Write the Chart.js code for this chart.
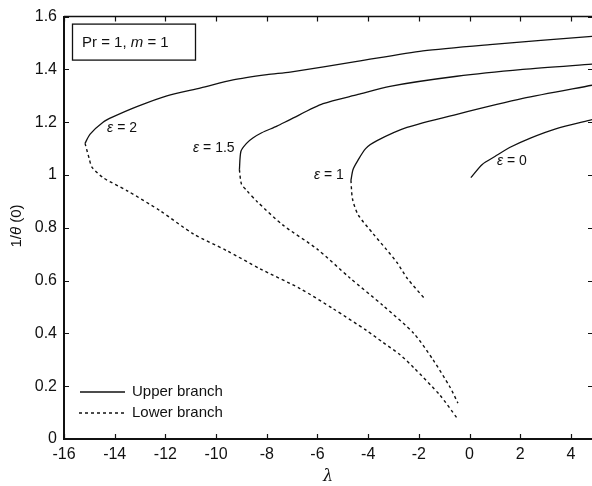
<!DOCTYPE html>
<html>
<head>
<meta charset="utf-8">
<script src="https://cdn.jsdelivr.net/npm/chart.js@4.4.1/dist/chart.umd.min.js"></script>
<style>
  html, body { margin: 0; padding: 0; background: #fff; }
  #wrap { width: 592px; height: 486px; }
</style>
</head>
<body>
<div id="wrap"><canvas id="c" width="592" height="486"></canvas></div>
<script>
// 読み取った曲線データ（λ, 1/θ(0)）
const xTicks = [-16, -14, -12, -10, -8, -6, -4, -2, 0, 2, 4];
const yTicks = [0, 0.2, 0.4, 0.6, 0.8, 1, 1.2, 1.4, 1.6];

const eps0UpperX = [0.05, 0.5, 1.0, 1.6, 2.4, 3.4, 4.83];
const eps0UpperY = [0.99, 1.04, 1.07, 1.105, 1.14, 1.175, 1.21];

const eps1UpperX = [-4.68, -4.6, -4.44, -4.1, -3.65, -2.47, -0.5, 2.1, 4.83];
const eps1UpperY = [0.98, 1.02, 1.05, 1.1, 1.13, 1.18, 1.23, 1.29, 1.34];
const eps1LowerX = [-4.68, -4.62, -4.4, -3.8, -3.3, -2.86, -2.47, -1.76];
const eps1LowerY = [0.98, 0.91, 0.85, 0.777, 0.72, 0.668, 0.61, 0.53];

const eps15UpperX = [-9.08, -9.02, -8.8, -8.55, -8.2, -7.6, -7.08, -5.78, -4.4, -3.14, -0.5, 2.1, 4.83];
const eps15UpperY = [1.02, 1.09, 1.12, 1.14, 1.16, 1.185, 1.21, 1.27, 1.305, 1.336, 1.374, 1.40, 1.42];
const eps15LowerX = [-9.08, -9.0, -8.78, -8.39, -7.36, -6.02, -4.72, -3.42, -2.2, -1.44, -0.77, -0.46];
const eps15LowerY = [1.02, 0.966, 0.94, 0.90, 0.81, 0.72, 0.61, 0.506, 0.40, 0.30, 0.196, 0.136];

const eps2UpperX = [-15.17, -14.97, -14.46, -14.07, -13.1, -11.94, -10.6, -9.33, -7.99, -7.08, -4.44, -1.84, 0.8, 4.83];
const eps2UpperY = [1.12, 1.155, 1.20, 1.22, 1.26, 1.30, 1.33, 1.36, 1.38, 1.39, 1.43, 1.47, 1.494, 1.525];
const eps2LowerX = [-15.17, -15.0, -14.9, -14.46, -13.5, -12.2, -10.9, -9.57, -8.27, -6.69, -5.39, -4.05, -3.42, -2.75, -2.2, -1.17, -0.5];
const eps2LowerY = [1.12, 1.06, 1.03, 0.99, 0.94, 0.864, 0.777, 0.713, 0.645, 0.57, 0.494, 0.41, 0.366, 0.32, 0.27, 0.166, 0.08];

// 曲線ラベル（左端・中央のデータ座標）
const curveLabels = [
  { eps: '2', x: -14.3, y: 1.177 },
  { eps: '1.5', x: -10.91, y: 1.102 },
  { eps: '1', x: -6.14, y: 1.0 },
  { eps: '0', x: 1.08, y: 1.053 },
];

const FONT = '"Liberation Sans", Arial, sans-serif';
const INK = '#111';

function pts(xs, ys) {
  return xs.map((x, i) => ({ x, y: ys[i] }));
}

function branch(xs, ys, dashed) {
  return {
    data: pts(xs, ys),
    showLine: true,
    borderColor: INK,
    borderWidth: dashed ? 1.4 : 1.3,
    borderDash: dashed ? [3, 3] : [],
    pointRadius: 0,
    tension: 0.25,
    fill: false,
  };
}

// 枠・内向き目盛り・注記・凡例をまとめて描く
const decorations = {
  id: 'decorations',
  afterDraw(chart) {
    const { ctx, chartArea: a, scales: { x, y } } = chart;
    ctx.save();
    ctx.strokeStyle = INK;
    ctx.fillStyle = INK;

    // 上枠
    ctx.lineWidth = 1.5;
    ctx.beginPath();
    ctx.moveTo(a.left, a.top);
    ctx.lineTo(a.right, a.top);
    ctx.stroke();

    // 内向き目盛り
    ctx.lineWidth = 1.2;
    ctx.beginPath();
    xTicks.forEach((v) => {
      const px = Math.round(x.getPixelForValue(v)) + 0.5;
      ctx.moveTo(px, a.bottom);
      ctx.lineTo(px, a.bottom - 5);
      ctx.moveTo(px, a.top);
      ctx.lineTo(px, a.top + 5);
    });
    yTicks.forEach((v) => {
      const py = Math.round(y.getPixelForValue(v)) + 0.5;
      ctx.moveTo(a.left, py);
      ctx.lineTo(a.left + 5, py);
      ctx.moveTo(a.right, py);
      ctx.lineTo(a.right - 4, py);
    });
    ctx.stroke();

    // ε ラベル
    ctx.textBaseline = 'middle';
    ctx.textAlign = 'left';
    curveLabels.forEach((lab) => {
      let px = x.getPixelForValue(lab.x);
      const py = y.getPixelForValue(lab.y);
      ctx.font = 'italic 14px ' + FONT;
      ctx.fillText('ε', px, py);
      px += ctx.measureText('ε').width;
      ctx.font = '14px ' + FONT;
      ctx.fillText(' = ' + lab.eps, px, py);
    });

    // Pr, m の注記ボックス
    const bx = a.left + 8, by = a.top + 7, bw = 123, bh = 36;
    ctx.lineWidth = 1.3;
    ctx.fillStyle = '#fff';
    ctx.fillRect(bx, by, bw, bh);
    ctx.strokeRect(bx + 0.5, by + 0.5, bw, bh);
    ctx.fillStyle = INK;
    let tx = bx + 10;
    const ty = by + bh / 2 + 1;
    ctx.font = '15px ' + FONT;
    ctx.fillText('Pr = 1, ', tx, ty);
    tx += ctx.measureText('Pr = 1, ').width;
    ctx.font = 'italic 15px ' + FONT;
    ctx.fillText('m', tx, ty);
    tx += ctx.measureText('m').width;
    ctx.font = '15px ' + FONT;
    ctx.fillText(' = 1', tx, ty);

    // 凡例
    const lx = a.left + 16;
    const ly1 = 392, ly2 = 413;
    ctx.lineWidth = 1.4;
    ctx.beginPath();
    ctx.moveTo(lx, ly1);
    ctx.lineTo(lx + 45, ly1);
    ctx.stroke();
    ctx.setLineDash([3, 3]);
    ctx.beginPath();
    ctx.moveTo(lx - 1, ly2);
    ctx.lineTo(lx + 45, ly2);
    ctx.stroke();
    ctx.setLineDash([]);
    ctx.font = '15px ' + FONT;
    ctx.fillText('Upper branch', lx + 52, ly1);
    ctx.fillText('Lower branch', lx + 52, ly2);

    // 軸タイトル
    ctx.textAlign = 'center';
    ctx.font = 'italic 16px "DejaVu Serif", serif';
    ctx.fillText('λ', (a.left + a.right) / 2, 477);

    ctx.translate(17, 226);
    ctx.rotate(-Math.PI / 2);
    const p1 = '1/', p2 = 'θ', p3 = ' (0)';
    ctx.font = '15px ' + FONT;
    const w1 = ctx.measureText(p1).width, w3 = ctx.measureText(p3).width;
    ctx.font = 'italic 15px ' + FONT;
    const w2 = ctx.measureText(p2).width;
    let sx = -(w1 + w2 + w3) / 2;
    ctx.textAlign = 'left';
    ctx.font = '15px ' + FONT;
    ctx.fillText(p1, sx, 0);
    sx += w1;
    ctx.font = 'italic 15px ' + FONT;
    ctx.fillText(p2, sx, 0);
    sx += w2;
    ctx.font = '15px ' + FONT;
    ctx.fillText(p3, sx, 0);

    ctx.restore();
  },
};

new Chart(document.getElementById('c'), {
  type: 'scatter',
  data: {
    datasets: [
      branch(eps2UpperX, eps2UpperY, false),
      branch(eps2LowerX, eps2LowerY, true),
      branch(eps15UpperX, eps15UpperY, false),
      branch(eps15LowerX, eps15LowerY, true),
      branch(eps1UpperX, eps1UpperY, false),
      branch(eps1LowerX, eps1LowerY, true),
      branch(eps0UpperX, eps0UpperY, false),
    ],
  },
  options: {
    responsive: false,
    animation: false,
    layout: { padding: { top: 15, right: 0, left: 0, bottom: 0 } },
    plugins: {
      legend: { display: false },
      tooltip: { enabled: false },
    },
    scales: {
      x: {
        type: 'linear',
        min: -16,
        max: 4.83,
        afterBuildTicks: (axis) => {
          axis.ticks = xTicks.map((v) => ({ value: v }));
        },
        afterFit: (axis) => {
          axis.height = 47;
        },
        grid: { display: true, drawOnChartArea: false, drawTicks: false },
        border: { display: true, color: INK, width: 2 },
        ticks: {
          color: INK,
          padding: 6,
          maxRotation: 0,
          autoSkip: false,
          font: { family: FONT, size: 16 },
          callback: (v) => String(v),
        },
      },
      y: {
        type: 'linear',
        min: 0,
        max: 1.6,
        afterBuildTicks: (axis) => {
          axis.ticks = yTicks.map((v) => ({ value: v }));
        },
        afterFit: (axis) => {
          axis.width = 64;
        },
        grid: { display: true, drawOnChartArea: false, drawTicks: false },
        border: { display: true, color: INK, width: 2 },
        ticks: {
          color: INK,
          padding: 7,
          autoSkip: false,
          font: { family: FONT, size: 16 },
          callback: (v) => String(v),
        },
      },
    },
  },
  plugins: [decorations],
});
</script>
</body>
</html>
